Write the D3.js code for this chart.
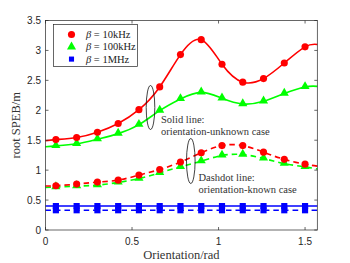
<!DOCTYPE html>
<html><head><meta charset="utf-8">
<script src="https://cdn.jsdelivr.net/npm/d3@7"></script>
<style>body{margin:0;background:#fff}svg{display:block}</style>
</head><body>
<script>
// ---- data ----
const orientation = [0.06, 0.18, 0.30, 0.42, 0.54, 0.66, 0.78, 0.90, 1.02, 1.14, 1.26, 1.38, 1.50];
const xStart = 0, xEnd = Math.PI / 2;
const red10kSolid   = [1.49, 1.51, 1.545, 1.633, 1.78, 2.01, 2.39, 2.93, 3.18, 2.77, 2.47, 2.53, 2.79, 3.06, 3.10];
const green100kSolid= [1.39, 1.405, 1.44, 1.517, 1.61, 1.76, 1.995, 2.19, 2.30, 2.20, 2.105, 2.15, 2.28, 2.39, 2.40];
const blue1MSolid   = [0.40, 0.40, 0.40, 0.40, 0.40, 0.40, 0.40, 0.40, 0.40, 0.40, 0.40, 0.40, 0.40, 0.40, 0.40];
const red10kDash    = [0.735, 0.74, 0.767, 0.80, 0.833, 0.917, 1.01, 1.135, 1.29, 1.41, 1.41, 1.30, 1.18, 1.10, 1.067];
const green100kDash = [0.71, 0.717, 0.733, 0.75, 0.795, 0.86, 0.955, 1.055, 1.15, 1.245, 1.26, 1.195, 1.11, 1.055, 1.02];
const blue1MDash    = [0.33, 0.33, 0.33, 0.33, 0.33, 0.33, 0.33, 0.33, 0.33, 0.33, 0.33, 0.33, 0.33, 0.33, 0.33];
const xTicks = [0, 0.5, 1, 1.5];
const yTicks = [0, 0.5, 1, 1.5, 2, 2.5, 3, 3.5];
const legendLabels = ["10kHz", "100kHz", "1MHz"];

// ---- layout ----
const W = 350, H = 263;
const L = 45.5, R = 317.3, T = 20.5, B = 230;
const svg = d3.select("body").append("svg").attr("width", W).attr("height", H);
const x = d3.scaleLinear().domain([0, Math.PI / 2]).range([L, R]);
const y = d3.scaleLinear().domain([0, 3.5]).range([B, T]);
const axisColor = "#262626";

const lineX = [xStart, ...orientation, xEnd];
const series = [
  {vals: red10kSolid, color: "#ff0000", dash: null, sym: "circle"},
  {vals: green100kSolid, color: "#00ff00", dash: null, sym: "triangle"},
  {vals: blue1MSolid, color: "#0000ff", dash: null, sym: "square"},
  {vals: red10kDash, color: "#ff0000", dash: "5.5,4", sym: "circle"},
  {vals: green100kDash, color: "#00ff00", dash: "5.5,4", sym: "triangle"},
  {vals: blue1MDash, color: "#0000ff", dash: "5.5,4", sym: "square"}
];
const symType = {circle: d3.symbolCircle, triangle: d3.symbolTriangle, square: d3.symbolSquare};
const symSize = {circle: 40, triangle: 36, square: 38};

const line = d3.line().x(d => x(d[0])).y(d => y(d[1])).curve(d3.curveNatural);

// draw order: dashed first, then solid
const order = [5, 4, 3, 2, 1, 0];
order.forEach(i => {
  const s = series[i];
  const pts = lineX.map((xv, k) => [xv, s.vals[k]]);
  svg.append("path").attr("d", line(pts)).attr("fill", "none")
    .attr("stroke", s.color).attr("stroke-width", 1.6)
    .attr("stroke-dasharray", s.dash);
  const mk = pts.slice(1, -1);
  svg.selectAll(null).data(mk).enter().append("path")
    .attr("d", d3.symbol().type(symType[s.sym]).size(symSize[s.sym]))
    .attr("transform", d => `translate(${x(d[0])},${y(d[1]) + (s.sym === "triangle" ? -0.5 : 0)})`)
    .attr("fill", s.color);
});

// frame
svg.append("rect").attr("x", L).attr("y", T).attr("width", R - L).attr("height", B - T)
  .attr("fill", "none").attr("stroke", axisColor).attr("stroke-width", 0.7);

// ticks (inward)
const tl = 3;
xTicks.forEach(t => {
  svg.append("line").attr("x1", x(t)).attr("x2", x(t)).attr("y1", B).attr("y2", B - tl).attr("stroke", axisColor).attr("stroke-width", 0.7);
  svg.append("line").attr("x1", x(t)).attr("x2", x(t)).attr("y1", T).attr("y2", T + tl).attr("stroke", axisColor).attr("stroke-width", 0.7);
  svg.append("text").attr("x", x(t)).attr("y", B + 15).attr("text-anchor", "middle")
    .attr("font-family", "Liberation Sans, Arial, sans-serif").attr("font-size", 10).attr("fill", axisColor).text(String(t));
});
yTicks.forEach(t => {
  svg.append("line").attr("x1", L).attr("x2", L + tl).attr("y1", y(t)).attr("y2", y(t)).attr("stroke", axisColor).attr("stroke-width", 0.7);
  svg.append("line").attr("x1", R).attr("x2", R - tl).attr("y1", y(t)).attr("y2", y(t)).attr("stroke", axisColor).attr("stroke-width", 0.7);
  svg.append("text").attr("x", L - 4.5).attr("y", y(t) + 3.5).attr("text-anchor", "end")
    .attr("font-family", "Liberation Sans, Arial, sans-serif").attr("font-size", 10).attr("fill", axisColor).text(String(t));
});

// axis labels
const serif = "Liberation Serif, 'Times New Roman', serif";
svg.append("text").attr("x", (L + R) / 2).attr("y", 259).attr("text-anchor", "middle")
  .attr("font-family", serif).attr("font-size", 12.5).attr("fill", "#333").text("Orientation/rad");
svg.append("text").attr("transform", `translate(20,${(T + B) / 2}) rotate(-90)`).attr("text-anchor", "middle")
  .attr("font-family", serif).attr("font-size", 12.5).attr("fill", "#333").text("root SPEB/m");

// legend
const lg = svg.append("g");
lg.append("rect").attr("x", 53.5).attr("y", 24.5).attr("width", 84).attr("height", 42)
  .attr("fill", "#fff").attr("stroke", axisColor).attr("stroke-width", 0.7);
legendLabels.forEach((lab, i) => {
  const s = series[i];
  const cy = 34.5 + i * 12.3;
  lg.append("path").attr("d", d3.symbol().type(symType[s.sym]).size(i === 2 ? 26 : symSize[s.sym]))
    .attr("transform", `translate(71.5,${cy})`).attr("fill", s.color);
  const t = lg.append("text").attr("x", 86).attr("y", cy + 3.5)
    .attr("font-family", serif).attr("font-size", 10.5).attr("fill", "#222");
  t.append("tspan").attr("font-style", "italic").text("β");
  t.append("tspan").text(" = " + lab);
});

// annotations
svg.append("ellipse").attr("cx", 150.5).attr("cy", 107.5).attr("rx", 4.3).attr("ry", 22)
  .attr("fill", "none").attr("stroke", "#111").attr("stroke-width", 0.8);
svg.append("ellipse").attr("cx", 190.8).attr("cy", 161).attr("rx", 4.3).attr("ry", 22.5)
  .attr("fill", "none").attr("stroke", "#111").attr("stroke-width", 0.8);
const ann = [
  ["Solid line:", 161, 122.5],
  ["orientation-unknown case", 161, 134.5],
  ["Dashdot line:", 198.5, 181],
  ["orientation-known case", 198.5, 193]
];
ann.forEach(a => svg.append("text").attr("x", a[1]).attr("y", a[2])
  .attr("font-family", serif).attr("font-size", 10.5).attr("fill", "#333").text(a[0]));
</script>
</body></html>
